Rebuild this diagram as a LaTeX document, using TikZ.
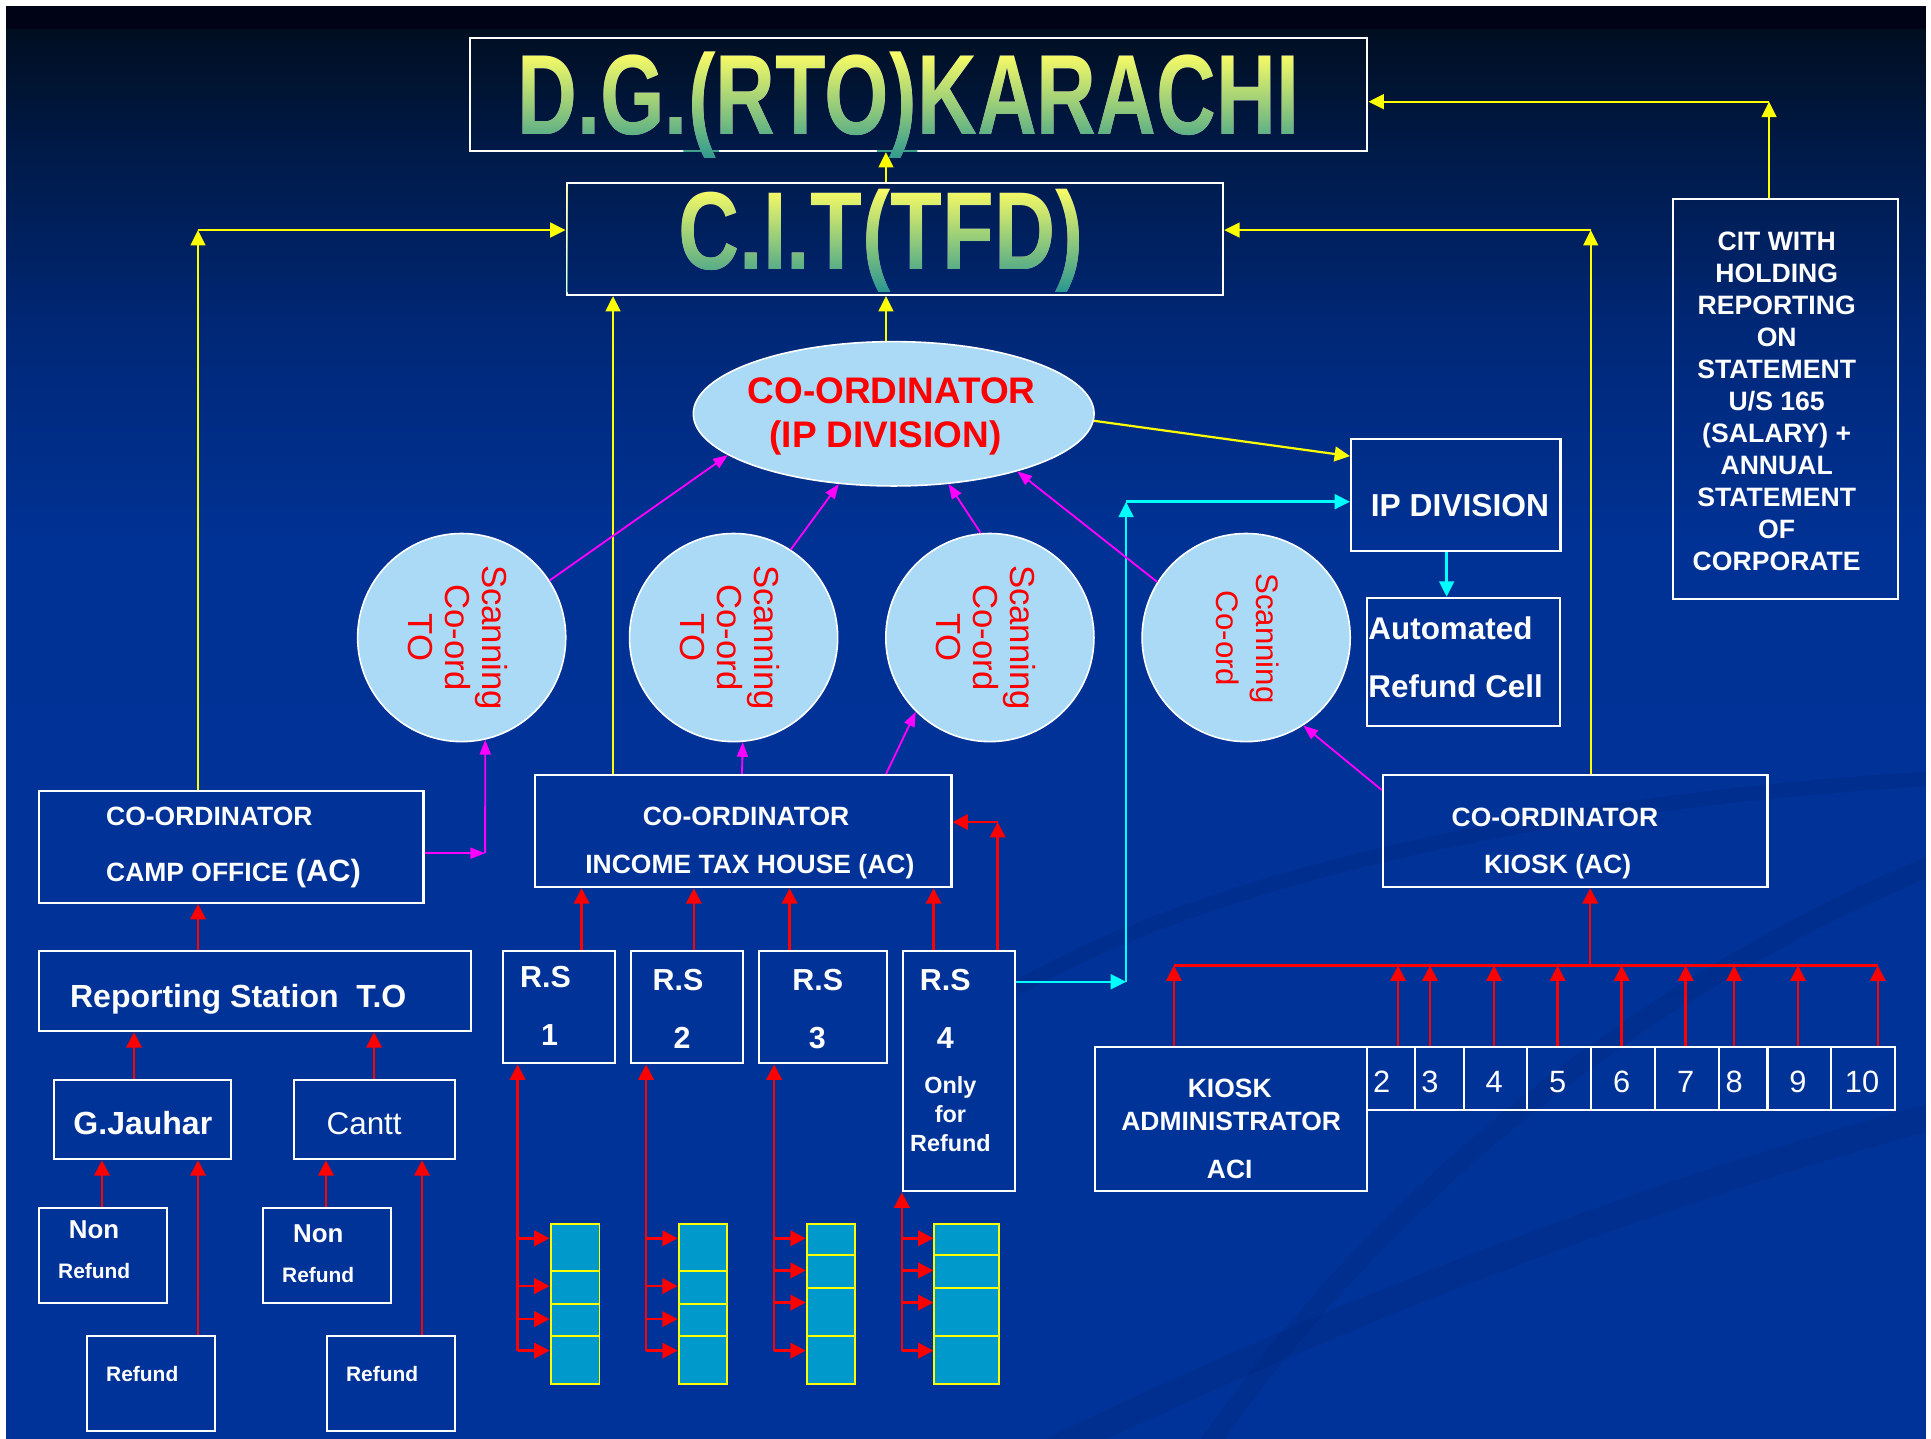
\documentclass[tikz,border=0pt]{standalone}
\usepackage{graphicx}
\usepackage{pdfrender}
\usepackage{fontspec}
\setmainfont{Liberation Sans}
\usetikzlibrary{arrows.meta,shapes.geometric}
\definecolor{bg0}{RGB}{0,3,22}
\definecolor{bg1}{RGB}{0,14,32}
\definecolor{bg2}{RGB}{0,26,72}
\definecolor{bg3}{RGB}{0,40,120}
\definecolor{bg4}{RGB}{0,50,150}
\definecolor{bg5}{RGB}{0,51,153}
\definecolor{swirl}{RGB}{0,38,120}
\definecolor{lblue}{RGB}{170,218,245}
\definecolor{cellc}{RGB}{0,153,204}
\definecolor{gtop}{RGB}{255,255,100}
\definecolor{gbot}{RGB}{40,150,145}
\definecolor{ylw}{RGB}{255,255,0}
\definecolor{cyn}{RGB}{0,255,255}
\definecolor{mag}{RGB}{255,0,255}
\definecolor{rd}{RGB}{255,0,0}
\newcommand{\myfs}[1]{\fontsize{#1}{#1}\selectfont}
\newcommand{\dgtxt}{\myfs{92.6}\bfseries\scalebox{0.728}[1]{\textpdfrender{TextRenderingMode=FillStroke,LineWidth=2.6,StrokeColor=black}{D.G.(RTO)KARACHI}}}
\newcommand{\cittxt}{\myfs{90}\bfseries\scalebox{0.766}[1]{\textpdfrender{TextRenderingMode=FillStroke,LineWidth=2.6,StrokeColor=black}{C.I.T(TFD)}}}
\begin{document}
\begin{tikzpicture}[x=1pt,y=-1pt,
  bx/.style={draw=white,line width=1.7pt,inner sep=0pt,anchor=north west},
  cellbx/.style={draw=ylw,fill=cellc,line width=1.6pt,inner sep=0pt,anchor=north west},
  wt/.style={text=white,inner sep=0pt,anchor=base},
  rt/.style={text=rd,inner sep=0pt,anchor=base},
  blob/.style={draw=white,fill=lblue,line width=1.3pt,inner sep=0pt},
  yarr/.style={draw=ylw,line width=1.8pt,-{Triangle[length=12.5pt,width=12pt]}},
  rarr/.style={draw=rd,line width=2pt,-{Triangle[length=12.5pt,width=12.5pt]}},
  marr/.style={draw=mag,line width=1.5pt,-{Triangle[length=12pt,width=9pt]}},
  carr/.style={draw=cyn,line width=2pt,-{Triangle[length=12.5pt,width=12pt]}},
  bfa/.style={font={\myfs{21.5}\bfseries}},
]
\useasboundingbox (0,0) rectangle (1568,1168);
% background
\fill[white] (0,0) rectangle (1568,1168);
\fill[bg0] (4.9,4.9) rectangle (1563.9,24.2);
\shade[top color=bg1,bottom color=bg2] (4.9,23.8) rectangle (1563.9,122.5);
\shade[top color=bg2,bottom color=bg3] (4.9,122) rectangle (1563.9,270.5);
\shade[top color=bg3,bottom color=bg4] (4.9,270) rectangle (1563.9,450.5);
\shade[top color=bg4,bottom color=bg5] (4.9,450) rectangle (1563.9,1168);
\begin{scope}[opacity=0.25,line cap=round]
  \clip (4.9,600) rectangle (1563.9,1168);
  \draw[swirl,line width=22pt] (1575,905) .. controls (1350,965) and (1100,1060) .. (860,1175);
  \draw[swirl,line width=16pt] (1575,700) .. controls (1380,780) and (1150,930) .. (980,1175);
  \draw[swirl,line width=12pt] (830,800) .. controls (980,715) and (1250,650) .. (1575,632);
\end{scope}

% boxes
\node[bx,minimum width=728.7pt,minimum height=91.5pt] (dg) at (380.8,30.3) {};
\node[bx,minimum width=533.1pt,minimum height=91.2pt] (cit) at (459.3,147.5) {};
\node[bx,minimum width=182.4pt,minimum height=324.3pt] (citw) at (1357.6,161) {};
\node[bx,minimum width=170.1pt,minimum height=91.2pt] (ipd) at (1096.2,355.4) {};
\node[bx,minimum width=157pt,minimum height=104.5pt] (arc) at (1109.1,484.5) {};
\node[bx,minimum width=312.4pt,minimum height=90.5pt] (camp) at (30.6,641.8) {};
\node[bx,minimum width=338.4pt,minimum height=91.2pt] (ith) at (433.4,628.4) {};
\node[bx,minimum width=312.4pt,minimum height=91pt] (kco) at (1122,628.5) {};
\node[bx,minimum width=351.1pt,minimum height=65.1pt] (rst) at (30.6,771.4) {};
\node[bx,minimum width=143.5pt,minimum height=64.4pt] (gj) at (43.3,876) {};
\node[bx,minimum width=130.5pt,minimum height=64.4pt] (cantt) at (238.2,876) {};
\node[bx,minimum width=104.2pt,minimum height=77.4pt] (nr1) at (30.6,979.9) {};
\node[bx,minimum width=104.2pt,minimum height=77.4pt] (nr2) at (212.5,979.9) {};
\node[bx,minimum width=104.2pt,minimum height=77.5pt] (rf1) at (69.6,1083.7) {};
\node[bx,minimum width=104.2pt,minimum height=77.5pt] (rf2) at (264.5,1083.7) {};
\node[bx,minimum width=91.2pt,minimum height=91.2pt] (rs1) at (407.4,771.4) {};
\node[bx,minimum width=91.4pt,minimum height=91.2pt] (rs2) at (511.4,771.4) {};
\node[bx,minimum width=104.5pt,minimum height=91.2pt] (rs3) at (615.2,771.4) {};
\node[bx,minimum width=91.2pt,minimum height=195.1pt] (rs4) at (732.3,771.4) {};
\node[bx,minimum width=221.2pt,minimum height=117.5pt] (kadm) at (888,849) {};
\foreach \nm/\xa/\xb in {n2/1109.2/1148.0,n3/1148.0/1187.7,n4/1187.7/1239.3,n5/1239.3/1291.3,n6/1291.3/1342.8,n7/1342.8/1394.8,n8/1394.8/1434.4,n9/1434.4/1486.0,n10/1486.0/1538.0}{
  \node[bx,minimum width={(\xb-\xa)*1pt},minimum height=51.5pt] (\nm) at (\xa,849) {};
}

% stacks
\foreach \k/\X/\W/\ya/\yb/\yc in {1/446.3/39.7/1031.6/1057.7/1083.7,2/550.3/39.1/1031.6/1057.7/1083.7,3/654.3/39.2/1018.6/1044.7/1083.7,4/758/52.3/1018.6/1044.7/1083.7}{
  \node[cellbx,minimum width={\W*1pt},minimum height={(\ya-992.8)*1pt}] (s\k-1) at (\X,992.8) {};
  \node[cellbx,minimum width={\W*1pt},minimum height={(\yb-\ya)*1pt}] (s\k-2) at (\X,\ya) {};
  \node[cellbx,minimum width={\W*1pt},minimum height={(\yc-\yb)*1pt}] (s\k-3) at (\X,\yb) {};
  \node[cellbx,minimum width={\W*1pt},minimum height={(1123.2-\yc)*1pt}] (s\k-4) at (\X,\yc) {};
}

% ellipse and circles
\node[blob,ellipse,minimum width=325.4pt,minimum height=117.2pt] (ell) at (725.7,336) {};
\node[blob,circle,minimum size=169pt] (c1) at (374.9,517.7) {};
\node[blob,circle,minimum size=169pt] (c2) at (595.7,517.7) {};
\node[blob,circle,minimum size=169pt] (c3) at (803.8,517.7) {};
\node[blob,circle,minimum size=169pt] (c4) at (1011.9,517.7) {};

% titles: white text with black outline, then tinted by a darkening gradient
\node[inner sep=0pt,anchor=base,text=white] (dgt) at (737.8,109.6) {\dgtxt};
\node[inner sep=0pt,anchor=base,text=white] (citt) at (715.5,219.2) {\cittxt};
\begin{scope}[blend mode=darken]
  \shade[top color=gtop,bottom color=gbot] (383.5,41) rectangle (1107,120.8) (555,120.8) rectangle (584,132) (712,120.8) rectangle (745,132);
  \shade[top color=gtop,bottom color=gbot] (461,151) rectangle (990.6,237.8);
\end{scope}

% texts
\foreach \ln [count=\k from 0] in {CIT WITH,HOLDING,REPORTING,ON,STATEMENT,U/S 165,(SALARY) +,ANNUAL,STATEMENT,OF,CORPORATE}{
  \node[wt,font={\myfs{21.6}\bfseries}] (cw\k) at (1442.7,{203.4+25.96*\k}) {\ln};
}
\node[rt,font={\myfs{30}\bfseries}] (tell1) at (724,328) {CO-ORDINATOR};
\node[rt,font={\myfs{30}\bfseries}] (tell2) at (719,363.2) {(IP DIVISION)};
\node[wt,font={\myfs{25.8}\bfseries}] (tipd) at (1185.5,419.3) {IP DIVISION};
\node[wt,anchor=base west,font={\myfs{25.5}\bfseries}] (tarc1) at (1111,519.1) {Automated};
\node[wt,anchor=base west,font={\myfs{25.5}\bfseries}] (tarc2) at (1111,566.1) {Refund Cell};

\foreach \c/\cx in {1/374.9,2/595.7,3/803.8}{
  \node[rt,rotate=-90,font={\myfs{28.2}}] (ts\c a) at ({\cx+17},517.7) {Scanning};
  \node[rt,rotate=-90,font={\myfs{28.2}}] (ts\c b) at ({\cx-13},517.7) {Co-ord};
  \node[rt,rotate=-90,font={\myfs{28.2}}] (ts\c c) at ({\cx-43.5},517.7) {TO};
}
\node[rt,rotate=-90,font={\myfs{25.3}}] (ts4a) at (1020,518.4) {Scanning};
\node[rt,rotate=-90,font={\myfs{25.3}}] (ts4b) at (988,518.4) {Co-ord};

\node[wt,anchor=base west,bfa] (tcamp1) at (86,670.7) {CO-ORDINATOR};
\node[wt,anchor=base west,bfa] (tcamp2) at (86,715.7) {CAMP OFFICE {\myfs{25}(AC)}};
\node[wt,bfa] (tith1) at (605.8,670.7) {CO-ORDINATOR};
\node[wt,bfa] (tith2) at (608.9,709.3) {INCOME TAX HOUSE (AC)};
\node[wt,bfa] (tkco1) at (1262.6,671.2) {CO-ORDINATOR};
\node[wt,bfa] (tkco2) at (1264.8,709.3) {KIOSK (AC)};
\node[wt,font={\myfs{26}\bfseries}] (trst) at (193.4,818.3) {Reporting Station\ \ T.O};
\node[wt,font={\myfs{26}\bfseries}] (tgj) at (116,921.5) {G.Jauhar};
\node[wt,font={\myfs{25.5}}] (tcantt) at (295.7,921.1) {Cantt};
\node[wt,font={\myfs{21}\bfseries}] (tnon1) at (76.3,1005.7) {Non};
\node[wt,font={\myfs{17}\bfseries}] (tnr1) at (76.5,1038.1) {Refund};
\node[wt,font={\myfs{21}\bfseries}] (tnon2) at (258.5,1009.2) {Non};
\node[wt,font={\myfs{17}\bfseries}] (tnr2) at (258.4,1041.4) {Refund};
\node[wt,font={\myfs{17}\bfseries}] (trf1) at (115.5,1122.1) {Refund};
\node[wt,font={\myfs{17}\bfseries}] (trf2) at (310.3,1122.1) {Refund};
\node[wt,font={\myfs{24.7}\bfseries}] (trs1a) at (443,802) {R.S};
\node[wt,font={\myfs{24.7}\bfseries}] (trs1b) at (446.3,848.8) {1};
\node[wt,font={\myfs{24.7}\bfseries}] (trs2a) at (550.6,804.5) {R.S};
\node[wt,font={\myfs{24.7}\bfseries}] (trs2b) at (553.9,851.7) {2};
\node[wt,font={\myfs{24.7}\bfseries}] (trs3a) at (664,804.5) {R.S};
\node[wt,font={\myfs{24.7}\bfseries}] (trs3b) at (663.6,851.7) {3};
\node[wt,font={\myfs{24.7}\bfseries}] (trs4a) at (767.6,804.5) {R.S};
\node[wt,font={\myfs{24.7}\bfseries}] (trs4b) at (767.6,851.7) {4};
\node[wt,font={\myfs{19}\bfseries}] (trs4c) at (771.8,888) {Only};
\node[wt,font={\myfs{19}\bfseries}] (trs4d) at (771.8,911.5) {for};
\node[wt,font={\myfs{19}\bfseries}] (trs4e) at (771.8,935) {Refund};
\node[wt,bfa] (tka1) at (998.6,891.3) {KIOSK};
\node[wt,bfa] (tka2) at (999.7,917.7) {ADMINISTRATOR};
\node[wt,bfa] (tka3) at (998.6,956.7) {ACI};
\foreach \d/\dx in {2/1122,3/1161.2,4/1213.2,5/1264.8,6/1316.8,7/1368.8,8/1408.1,9/1460.0,10/1512}{
  \node[wt,font={\myfs{25}}] (td\d) at (\dx,887.2) {\d};
}

% yellow connectors
\coordinate (yL) at (160.8,186.8);
\coordinate (yR) at (1291.7,186.8);
\coordinate (yT) at (1436.5,82.6);
\coordinate (yM) at (497.8,400);
\coordinate (yC) at (719.4,200);
\draw[yarr] (camp.north -| yL) -- (yL);
\draw[yarr] (yL) -- (yL -| cit.west);
\draw[yarr] (kco.north -| yR) -- (yR);
\draw[yarr] (yR) -- (yR -| cit.east);
\draw[yarr] (citw.north -| yT) -- (yT);
\draw[yarr] (yT) -- (yT -| dg.east);
\draw[yarr] (ith.north -| yM) -- (yM |- cit.south);
\draw[yarr] (ell.north -| yC) -- (yC |- cit.south);
\draw[yarr] (cit.north -| yC) -- (yC |- dg.south);
\draw[yarr] (ell.-2) -- ([yshift=31.5pt]ipd.west);

% cyan connectors
\coordinate (cyA) at (914.4,797.2);
\coordinate (cyB) at (914.4,407.4);
\coordinate (cyC) at (1174.7,460);
\draw[carr] (rs4.east |- cyA) -- (cyA);
\draw[carr] (cyA) -- (cyB);
\draw[carr] (cyB) -- (cyB -| ipd.west);
\draw[carr] (ipd.south -| cyC) -- (cyC |- arc.north);

% magenta connectors
\coordinate (mA) at (393.9,692.8);
\coordinate (mB) at (602.5,700);
\coordinate (mC) at (719.5,700);
\draw[marr] (camp.east |- mA) -- (mA);
\draw[marr] (mA) -- (c1.-77);
\draw[marr] (c1.33) -- (ell.194);
\draw[marr] (c2.57) -- (ell.232);
\draw[marr] (c3.95) -- (ell.308);
\draw[marr] (c4.148) -- (ell.335);
\draw[marr] (ith.north -| mB) -- (c2.-85);
\draw[marr] (ith.north -| mC) -- (c3.225);
\draw[marr] ([yshift=-13pt]kco.north west) -- (c4.-57);

% red connectors, left tree
\foreach \nm/\rx in {rA/160.8,rB/108.8,rC/303.7,rD/82.8,rE/264.7,rF/342.7,rG/472.3,rH/563.4,rI/641.2,rJ/758.1}{
  \coordinate (\nm) at (\rx,700);
}
\draw[rarr] (rst.north -| rA) -- (rA |- camp.south);
\draw[rarr] (gj.north -| rB) -- (rB |- rst.south);
\draw[rarr] (cantt.north -| rC) -- (rC |- rst.south);
\draw[rarr] (nr1.north -| rD) -- (rD |- gj.south);
\draw[rarr] (rf1.north -| rA) -- (rA |- gj.south);
\draw[rarr] (nr2.north -| rE) -- (rE |- cantt.south);
\draw[rarr] (rf2.north -| rF) -- (rF |- cantt.south);
\draw[rarr] (rs1.north -| rG) -- (rG |- ith.south);
\draw[rarr] (rs2.north -| rH) -- (rH |- ith.south);
\draw[rarr] (rs3.north -| rI) -- (rI |- ith.south);
\draw[rarr] (rs4.north -| rJ) -- (rJ |- ith.south);
\coordinate (rK) at (810.1,667.5);
\draw[rarr] (rs4.north -| rK) -- (rK);
\draw[rarr] (rK) -- (rK -| ith.east);

% red brackets to stacks
\foreach \k/\L/\la/\lb in {1/420.3/1044.3/1071.1,2/524.6/1044.3/1071.1,3/628.6/1031.6/1057.7,4/732.3/1031.6/1057.7}{
  \coordinate (b\k-1) at (\L,1005.5);
  \coordinate (b\k-2) at (\L,\la);
  \coordinate (b\k-3) at (\L,\lb);
  \coordinate (b\k-4) at (\L,1096.7);
  \draw[rarr] (b\k-4) -- (b\k-4 |- rs\k.south);
  \foreach \j in {1,2,3,4}{
    \draw[rarr] (b\k-\j) -- (b\k-\j -| s\k-1.west);
  }
}

% kiosk bus
\coordinate (busL) at (953.2,784);
\coordinate (busR) at (1524.8,784);
\coordinate (busM) at (1291.3,784);
\draw[rd,line width=2pt] (busL) -- (busR);
\draw[rarr] (busM) -- (busM |- kco.south);
\draw[rarr] (busL |- kadm.north) -- (busL);
\foreach \nm/\kx in {n2/1135.2,n3/1161.2,n4/1213.2,n5/1264.8,n6/1316.8,n7/1368.8,n8/1408.1,n9/1460.0,n10/1524.8}{
  \coordinate (k\nm) at (\kx,784);
  \draw[rarr] (k\nm |- \nm.north) -- (k\nm);
}
\end{tikzpicture}
\end{document}
